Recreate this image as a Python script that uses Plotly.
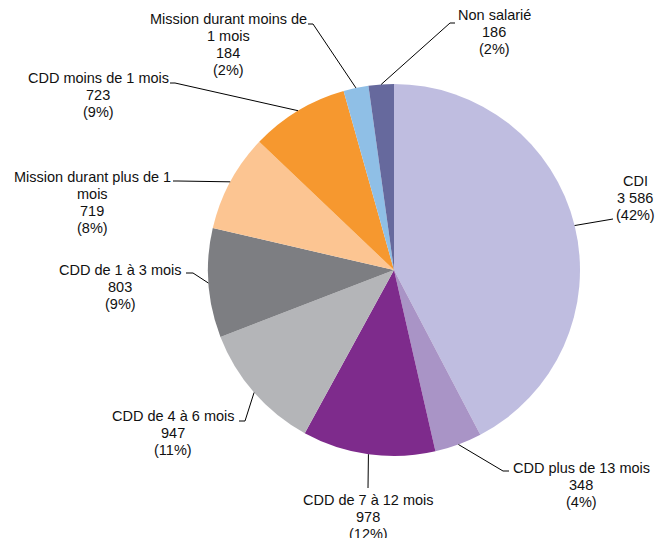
import math
import plotly.graph_objects as go

# Contract types, in drawing order (clockwise from 12 o'clock)
categories = [
    "CDI",
    "CDD plus de 13 mois",
    "CDD de 7 à 12 mois",
    "CDD de 4 à 6 mois",
    "CDD de 1 à 3 mois",
    "Mission durant plus de 1 mois",
    "CDD moins de 1 mois",
    "Mission durant moins de 1 mois",
    "Non salarié",
]
counts = [3586, 348, 978, 947, 803, 719, 723, 184, 186]

# How each category name is wrapped in its label
wrapped_names = [
    ["CDI"],
    ["CDD plus de 13 mois"],
    ["CDD de 7 à 12 mois"],
    ["CDD de 4 à 6 mois"],
    ["CDD de 1 à 3 mois"],
    ["Mission durant plus de 1", "mois"],
    ["CDD moins de 1 mois"],
    ["Mission durant moins de", "1 mois"],
    ["Non salarié"],
]

slice_colors = [
    "#BFBDE0", "#A994C6", "#7E2B8C", "#B4B5B8", "#7D7E82",
    "#FCC592", "#F6982F", "#8FBFE6", "#66699D",
]

# Canvas and pie geometry (pixels)
W, H = 658, 538
CX, CY, R = 394, 270, 186
FONT_SIZE = 14.5
LINE_STEP = 17

# Label layout in pixels: text centre x, first line centre y, leader elbow (x, y), tail length
label_layout = [
    (635, 181, 613, 219, 0),
    (581, 468, 503, 471, 6),
    (368, 500, 368, 488, 0),
    (173, 416, 245, 421, -6),
    (120, 270, 193, 273, -7),
    (92, 177, 178, 181, -5),
    (98, 78, 175, 83, -5),
    (228, 19, 313, 24, -5),
    (494, 15, 450, 23, 5),
]


def px(x):
    return x / W


def py(y):
    return 1 - y / H


def fmt_int(v):
    return f"{v:,}".replace(",", " ")


total = sum(counts)

fig = go.Figure(
    go.Pie(
        labels=categories,
        values=counts,
        sort=False,
        direction="clockwise",
        rotation=0,
        marker=dict(colors=slice_colors, line=dict(width=0)),
        textinfo="none",
        hoverinfo="label+value+percent",
        showlegend=False,
        domain=dict(x=[px(CX - R), px(CX + R)], y=[py(CY + R), py(CY - R)]),
    )
)

annotations = []
shapes = []
cum = 0
for name_lines, v, (tx, ty, ex, ey, tail) in zip(wrapped_names, counts, label_layout):
    mid = (cum + v / 2) / total
    cum += v
    ang = 2 * math.pi * mid
    sx = CX + R * math.sin(ang)
    sy = CY - R * math.cos(ang)
    pct = round(100 * v / total)
    lines = name_lines + [fmt_int(v), f"({pct}%)"]
    for i, line in enumerate(lines):
        annotations.append(
            dict(
                x=px(tx), y=py(ty + i * LINE_STEP), xref="paper", yref="paper",
                xanchor="center", yanchor="middle", showarrow=False, align="center",
                text=line,
                font=dict(family="Liberation Sans, Arial, sans-serif",
                          size=FONT_SIZE, color="#111111"),
            )
        )
    path = f"M {px(sx)} {py(sy)} L {px(ex)} {py(ey)}"
    if tail:
        path += f" L {px(ex + tail)} {py(ey)}"
    shapes.append(
        dict(type="path", xref="paper", yref="paper", path=path,
             line=dict(color="#000000", width=1))
    )

fig.update_layout(
    width=W, height=H,
    margin=dict(l=0, r=0, t=0, b=0),
    paper_bgcolor="white",
    plot_bgcolor="white",
    annotations=annotations,
    shapes=shapes,
)

fig.write_html("out.html")
